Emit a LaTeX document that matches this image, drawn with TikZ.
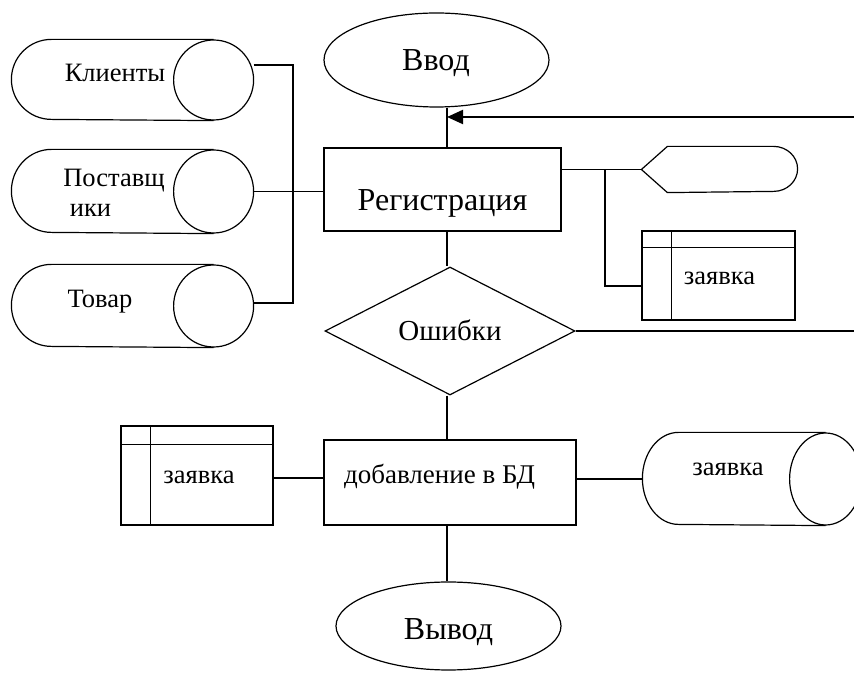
\documentclass[tikz,border=0pt]{standalone}
\usepackage{fontspec}
\setmainfont{Liberation Serif}
\newfontfamily\schemefont{Liberation Serif}
\usetikzlibrary{arrows.meta,calc,shapes.geometric}
\tikzset{
  term/.style={draw,ellipse,inner sep=0pt},
  proc/.style={draw,rectangle,inner sep=0pt},
  check/.style={draw,diamond,inner sep=0pt},
  store/.style={rectangle,inner sep=0pt},
  tbl/.style={draw,rectangle,inner sep=0pt},
  bigtxt/.style={anchor=base,inner sep=0pt,font=\schemefont\fontsize{32}{38}\selectfont},
  smalltxt/.style={anchor=base,inner sep=0pt,font=\schemefont\fontsize{26.5}{30}\selectfont},
  back/.style={-{Triangle[length=16pt,width=14pt]},line width=2pt}
}
\begin{document}
\begin{tikzpicture}[x=1pt,y=1pt,line width=1.2pt]
  \useasboundingbox (0,0) rectangle (854,672);
  \coordinate (col) at (447,0);
  \coordinate (bus) at (293,482);
  \coordinate (br) at (605,0);
  \coordinate (fbin) at (854,555);
  \coordinate (errout) at (854,0);
  % main column
  \node[term,minimum width=225,minimum height=94,label={[bigtxt,shift={(-0.5pt,-3pt)}]center:Ввод}] (vvod) at (436.5,612) {};
  \node[proc,minimum width=237,minimum height=83,label={[bigtxt,shift={(0pt,-13.5pt)}]center:Регистрация}] (reg) at (442.5,482.5) {};
  \node[check,minimum width=250,minimum height=128,label={[bigtxt,font=\schemefont\fontsize{29}{34}\selectfont,shift={(0pt,1pt)}]center:Ошибки}] (dia) at (450,341) {};
  \node[proc,minimum width=252,minimum height=85,label={[smalltxt,font=\schemefont\fontsize{27}{30}\selectfont,shift={(-10.5pt,5.5pt)}]center:добавление в БД}] (add2) at (450,189.5) {};
  \node[term,minimum width=225,minimum height=88,label={[bigtxt,shift={(0pt,-6pt)}]center:Вывод}] (vyvod) at (448.5,46) {};
  % sources on the left
  \node[store,minimum width=241,minimum height=80,label={[smalltxt,shift={(-17.5pt,7pt)}]center:Клиенты}] (cl) at (132.5,592) {};
  \node[store,minimum width=241,minimum height=83,label={[smalltxt,anchor=center,align=left,shift={(-18.5pt,-1.5pt)}]center:Поставщ\\\hspace*{0.25em}ики}] (pv) at (132.5,480.5) {};
  \node[store,minimum width=241,minimum height=82,label={[smalltxt,shift={(-32.5pt,4pt)}]center:Товар}] (tv) at (132.5,366) {};
  % outputs
  \node[minimum width=155,minimum height=45,inner sep=0pt] (disp) at (719.5,502.5) {};
  \node[tbl,minimum width=153,minimum height=89,label={[smalltxt,shift={(1pt,-2.5pt)}]center:заявка}] (tab1) at (718.5,396.5) {};
  \node[tbl,minimum width=152,minimum height=99,label={[smalltxt,shift={(2pt,-1.5pt)}]center:заявка}] (tab2) at (197,196.5) {};
  \node[store,minimum width=218,minimum height=92,label={[smalltxt,shift={(-24pt,10pt)}]center:заявка}] (db) at (752,193) {};
  % storage outlines
  \foreach \n/\r/\s in {cl/40/40,pv/40/41.5,tv/40/41,db/36/46} {
    \draw ([xshift=-\r pt]\n.north east) -- ([xshift=\r pt]\n.north west)
      arc[start angle=90,end angle=270,x radius=\r pt,y radius=\s pt] -- ([xshift=-\r pt]\n.south east);
    \draw ([xshift=-\r pt]\n.east) ellipse[x radius=\r pt,y radius=\s pt];
  }
  % display outline and table rulings
  \draw (disp.west) -- ([xshift=26pt]disp.north west) -- ([xshift=-24pt]disp.north east)
    arc[start angle=90,end angle=-90,x radius=24pt,y radius=22.5pt] -- ([xshift=26pt]disp.south west) -- cycle;
  \draw ($(tab1.north west)+(0,-17)$) -- ($(tab1.north east)+(0,-17)$);
  \draw ($(tab1.north west)+(30,0)$) -- ($(tab1.south west)+(30,0)$);
  \draw ($(tab2.north west)+(0,-19)$) -- ($(tab2.north east)+(0,-19)$);
  \draw ($(tab2.north west)+(30,0)$) -- ($(tab2.south west)+(30,0)$);
  % connectors
  \draw (vvod.south -| col) -- (reg.north -| col);
  \draw (reg.south -| col) -- (dia.north -| col);
  \draw (dia.south -| col) -- (add2.north -| col);
  \draw (add2.south -| col) -- (vyvod.north -| col);
  \draw[back] (fbin) -- (fbin -| col);
  \draw (dia.east) -- (dia.east -| errout);
  \draw ([yshift=15pt]cl.east) -| (bus) |- ([yshift=3pt]tv.east);
  \draw (pv.east) -- (pv.east -| reg.west);
  \draw (disp.west -| reg.east) -- (disp.west);
  \draw (br |- disp.west) |- ([yshift=-10.5pt]tab1.west);
  \draw ([yshift=-2.5pt]tab2.east) -- ([yshift=-2.5pt]tab2.east -| add2.west);
  \draw (add2.east |- db.west) -- (db.west);
\end{tikzpicture}
\end{document}
